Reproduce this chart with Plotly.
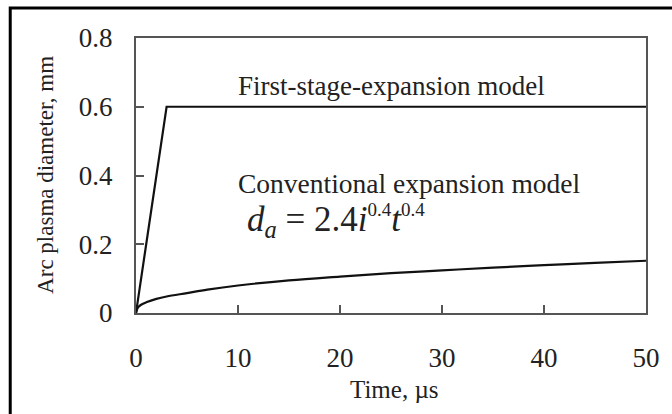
import plotly.graph_objects as go

# First-stage-expansion model
t_first = [0, 3, 50]
d_first = [0, 0.6, 0.6]

# Conventional expansion model
t_conv = [0, 0.2, 0.5, 1, 2, 3, 5, 7, 10, 15, 20, 25, 30, 35, 40, 45, 50]
d_conv = [0, 0.016, 0.024, 0.031, 0.041, 0.048, 0.058, 0.068, 0.080, 0.095, 0.106, 0.116, 0.124, 0.132, 0.139, 0.146, 0.152]

x_ticks = [0, 10, 20, 30, 40, 50]
y_ticks = [0, 0.2, 0.4, 0.6, 0.8]
y_tick_text = ["0", "0.2", "0.4", "0.6", "0.8"]

FONT = "Liberation Serif"

fig = go.Figure()
fig.add_trace(go.Scatter(x=t_first, y=d_first, mode="lines",
                         line=dict(color="#111111", width=2.2), showlegend=False))
fig.add_trace(go.Scatter(x=t_conv, y=d_conv, mode="lines", line_shape="spline",
                         line=dict(color="#111111", width=2.2), showlegend=False))

axis_common = dict(showgrid=False, zeroline=False, showline=True, linecolor="#555555",
                   linewidth=2, mirror=True, ticks="inside", ticklen=8, tickwidth=1.5,
                   tickcolor="#555555", tickfont=dict(family=FONT, size=27, color="#222222"))

fig.update_xaxes(range=[0, 50], tickvals=x_ticks, ticklabelstandoff=20, **axis_common)
fig.update_yaxes(range=[0, 0.8], tickvals=y_ticks, ticktext=y_tick_text,
                 ticklabelstandoff=16, **axis_common)

W, H = 672, 414
l, r, t, b = 136, 21, 38, 101
pw, ph = W - l - r, H - t - b

SUP = "<sup><span style='font-size:19px'>0.4</span></sup>"
formula = "<i>d<sub>a</sub></i> = 2.4<i>i</i>" + SUP + "<i>t</i>" + SUP

ann = [
    ("First-stage-expansion model", 394, 86, 27, 0),
    ("Conventional expansion model", 412, 183, 27.5, 0),
    (formula, 338, 221, 35, 0),
    ("Time, µs", 397, 389, 25, 0),
    ("Arc plasma diameter, mm", 44, 175, 23, -90),
]

fig.update_layout(
    width=W, height=H,
    margin=dict(l=l, r=r, t=t, b=b),
    paper_bgcolor="white", plot_bgcolor="white",
    font=dict(family=FONT, color="#222222"),
    annotations=[
        dict(text=txt, x=(px - l) / pw, y=(H - b - py) / ph, xref="paper", yref="paper",
             xanchor="center", yanchor="middle", showarrow=False, textangle=ang,
             font=dict(family=FONT, size=sz, color="#222222"))
        for txt, px, py, sz, ang in ann
    ],
)

# outer frame (top and left visible)
fig.add_shape(type="rect", xref="paper", yref="paper",
              x0=(9 - l) / pw, y0=(H - b - 430) / ph, x1=(690 - l) / pw, y1=(H - b - 8) / ph,
              line=dict(color="black", width=3), layer="above")

fig.write_html("out.html", post_script="document.body.style.margin='0';",
               config={"displayModeBar": False})
